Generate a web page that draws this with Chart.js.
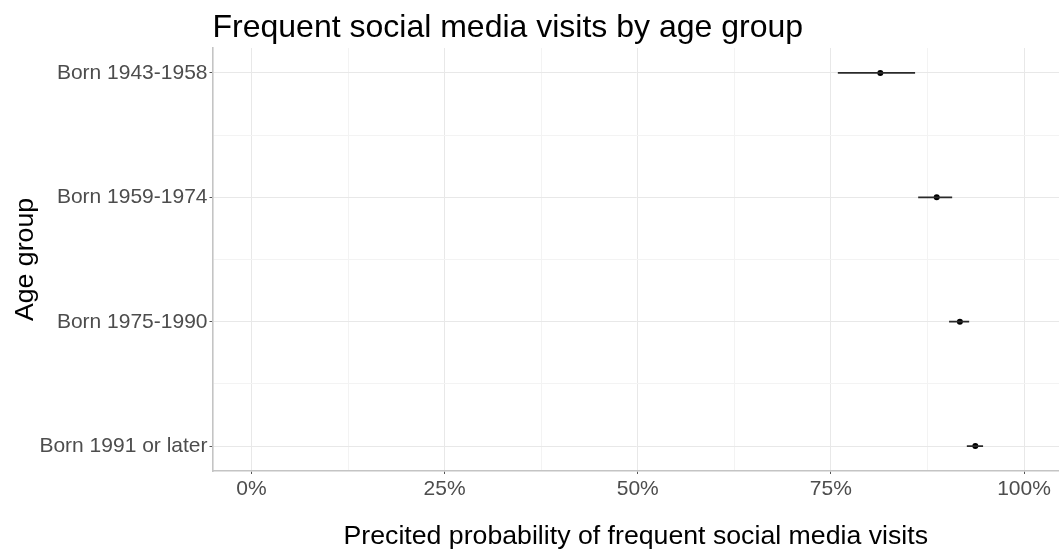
<!DOCTYPE html>
<html>
<head>
<meta charset="utf-8">
<script src="https://cdn.jsdelivr.net/npm/chart.js@4/dist/chart.umd.min.js"></script>
<style>
  html, body { margin: 0; padding: 0; background: #ffffff; }
  #wrap { position: relative; width: 1059px; height: 550px; }
</style>
</head>
<body>
<div id="wrap"><canvas id="chart"></canvas></div>
<script>
// Age groups, top to bottom
const categories = ['Born 1943-1958', 'Born 1959-1974', 'Born 1975-1990', 'Born 1991 or later'];
// Predicted probability and its interval bounds
const estimate = [0.814, 0.887, 0.917, 0.937];
const lower = [0.759, 0.863, 0.903, 0.926];
const upper = [0.859, 0.907, 0.929, 0.947];
// Axis ticks
const xTicks = [0, 0.25, 0.5, 0.75, 1];
const xTickLabels = ['0%', '25%', '50%', '75%', '100%'];

const FONT = '"Liberation Sans", Arial, Helvetica, sans-serif';
const isMajorX = v => xTicks.some(t => Math.abs(t - v) < 1e-9);
const isMajorY = v => Math.abs(v - Math.round(v)) < 1e-9;

// One line segment per group for the interval, plus the point estimates
const intervalSets = categories.map((c, i) => ({
  type: 'scatter',
  label: c,
  data: [{ x: lower[i], y: i + 1 }, { x: upper[i], y: i + 1 }],
  showLine: true,
  borderColor: '#2a2a2a',
  borderWidth: 1.7,
  pointRadius: 0,
  pointHoverRadius: 0
}));

const pointSet = {
  type: 'scatter',
  label: 'estimate',
  data: estimate.map((v, i) => ({ x: v, y: i + 1 })),
  pointRadius: 3,
  pointBackgroundColor: '#000000',
  pointBorderWidth: 0,
  showLine: false
};

const titlePlugin = {
  id: 'plotTitle',
  afterDraw(chart) {
    const ctx = chart.ctx;
    ctx.save();
    ctx.font = '32px ' + FONT;
    ctx.fillStyle = '#000000';
    ctx.textAlign = 'left';
    ctx.textBaseline = 'alphabetic';
    ctx.fillText('Frequent social media visits by age group', chart.chartArea.left, 37);
    ctx.restore();
  }
};

new Chart(document.getElementById('chart'), {
  data: { datasets: [...intervalSets, pointSet] },
  options: {
    responsive: true,
    maintainAspectRatio: false,
    animation: false,
    layout: { autoPadding: false, padding: { top: 48, right: 0, bottom: 0, left: 0 } },
    plugins: {
      legend: { display: false },
      tooltip: { enabled: false }
    },
    scales: {
      x: {
        type: 'linear',
        min: -0.0505,
        max: 1.0453,
        afterFit(scale) { scale.height = 79; },
        afterBuildTicks(scale) {
          const vals = [];
          for (let k = 0; k <= 8; k++) vals.push(k * 0.125);
          scale.ticks = vals.map(v => ({ value: v }));
        },
        ticks: {
          autoSkip: false,
          maxRotation: 0,
          padding: 3,
          color: '#4d4d4d',
          font: { family: FONT, size: 21 },
          callback(v) {
            const k = xTicks.findIndex(t => Math.abs(t - v) < 1e-9);
            return k >= 0 ? xTickLabels[k] : '';
          }
        },
        grid: {
          color: ctx => (ctx.tick && isMajorX(ctx.tick.value)) ? '#e8e8e8' : '#f3f3f3',
          lineWidth: 1,
          tickLength: 3,
          tickColor: ctx => (ctx.tick && isMajorX(ctx.tick.value)) ? '#555555' : 'rgba(0,0,0,0)'
        },
        border: { display: true, color: '#c4c4c4', width: 1.6 },
        title: {
          display: true,
          text: 'Precited probability of frequent social media visits',
          color: '#000000',
          font: { family: FONT, size: 26.7, lineHeight: 1 },
          padding: { top: 0, bottom: 0 }
        }
      },
      y: {
        type: 'linear',
        reverse: true,
        min: 0.8,
        max: 4.2,
        afterFit(scale) { scale.width = 212.5; },
        afterBuildTicks(scale) {
          scale.ticks = [1, 1.5, 2, 2.5, 3, 3.5, 4].map(v => ({ value: v }));
        },
        ticks: {
          autoSkip: false,
          padding: 2,
          color: '#4d4d4d',
          font: { family: FONT, size: 21 },
          callback(v) {
            return isMajorY(v) ? categories[Math.round(v) - 1] : '';
          }
        },
        grid: {
          color: ctx => (ctx.tick && isMajorY(ctx.tick.value)) ? '#e8e8e8' : '#f3f3f3',
          lineWidth: 1,
          tickLength: 3,
          tickColor: ctx => (ctx.tick && isMajorY(ctx.tick.value)) ? '#555555' : 'rgba(0,0,0,0)'
        },
        border: { display: true, color: '#c4c4c4', width: 1.6 },
        title: {
          display: true,
          text: 'Age group',
          color: '#000000',
          font: { family: FONT, size: 26.7, lineHeight: 1.2 },
          padding: { top: 10, bottom: 0 }
        }
      }
    }
  },
  plugins: [titlePlugin]
});
</script>
</body>
</html>
